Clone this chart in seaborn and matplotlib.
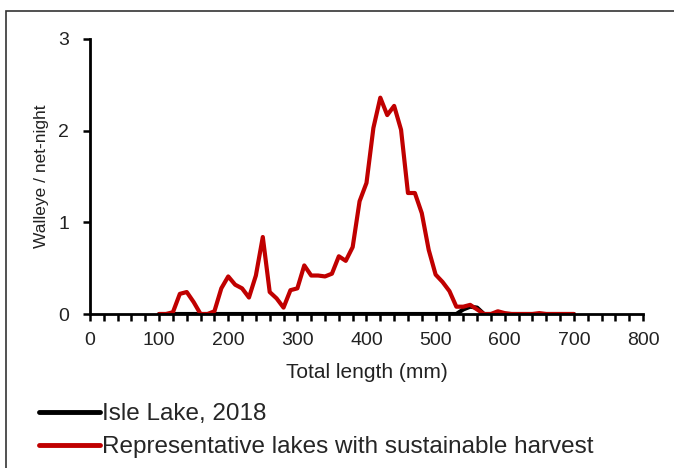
import numpy as np
import pandas as pd
import matplotlib
matplotlib.use("Agg")
import matplotlib.pyplot as plt
import seaborn as sns
from matplotlib.lines import Line2D
from matplotlib.patches import Rectangle

length_mm = list(range(100, 710, 10))
representative = [0.00, 0.00, 0.02, 0.22, 0.24, 0.13, 0.00, 0.00, 0.03, 0.28,
                  0.41, 0.32, 0.28, 0.18, 0.42, 0.84, 0.24, 0.17, 0.07, 0.26,
                  0.28, 0.53, 0.42, 0.42, 0.41, 0.44, 0.63, 0.58, 0.73, 1.23,
                  1.43, 2.03, 2.36, 2.17, 2.27, 2.01, 1.32, 1.32, 1.10, 0.70,
                  0.43, 0.35, 0.25, 0.08, 0.08, 0.10, 0.05, 0.00, 0.00, 0.03,
                  0.01, 0.00, 0.00, 0.00, 0.00, 0.01, 0.00, 0.00, 0.00, 0.00,
                  0.00]
isle = [0.0] * 44 + [0.05, 0.08, 0.07] + [0.0] * 14

series_names = ["Isle Lake, 2018", "Representative lakes with sustainable harvest"]
colors = ["#000000", "#C00000"]

df = pd.DataFrame({
    "length": length_mm * 2,
    "value": isle + representative,
    "series": [series_names[0]] * len(length_mm) + [series_names[1]] * len(length_mm),
})

sns.set_style("white")
plt.rcParams["font.family"] = ["Liberation Sans", "DejaVu Sans"]

fig = plt.figure(figsize=(6.74, 4.68), dpi=100)
ax = fig.add_axes([0.1335, 0.329, 0.8205, 0.5877])

sns.lineplot(data=df, x="length", y="value", hue="series", hue_order=series_names,
             palette=colors, linewidth=3, ax=ax, legend=False, sort=False)

ax.set_xlim(0, 800)
ax.set_ylim(0, 3)
ax.set_xticks(range(0, 801, 100))
ax.set_xticks(range(0, 801, 20), minor=True)
ax.set_yticks([0, 1, 2, 3])
ax.tick_params(axis="both", which="both", direction="out", length=5, width=1.8,
               color="black", labelsize=14, labelcolor="#222222",
               bottom=True, left=True)
ax.tick_params(axis="x", which="both", pad=8)
ax.tick_params(axis="y", which="both", pad=10)
for s in ["top", "right"]:
    ax.spines[s].set_visible(False)
for s in ["left", "bottom"]:
    ax.spines[s].set_color("black")
    ax.spines[s].set_linewidth(2)
ax.set_xlabel("Total length (mm)", fontsize=15, color="#222222", labelpad=10)
ax.set_ylabel("Walleye / net-night", fontsize=12.5, color="#222222", labelpad=7)

handles = [Line2D([], [], color=c, lw=3.5) for c in colors]
fig.legend(handles, series_names, loc="upper left", bbox_to_anchor=(0.058, 0.138),
           frameon=False, fontsize=17.5, handlelength=2.5, handletextpad=0.1,
           labelspacing=0.45, borderaxespad=0, borderpad=0)

fig.patches.append(Rectangle((6 / 674, -0.1), 1.2, 1 - 11 / 468 + 0.1,
                             transform=fig.transFigure, fill=False,
                             edgecolor="#333333", linewidth=1.2))

fig.savefig("out.png", dpi=100)
